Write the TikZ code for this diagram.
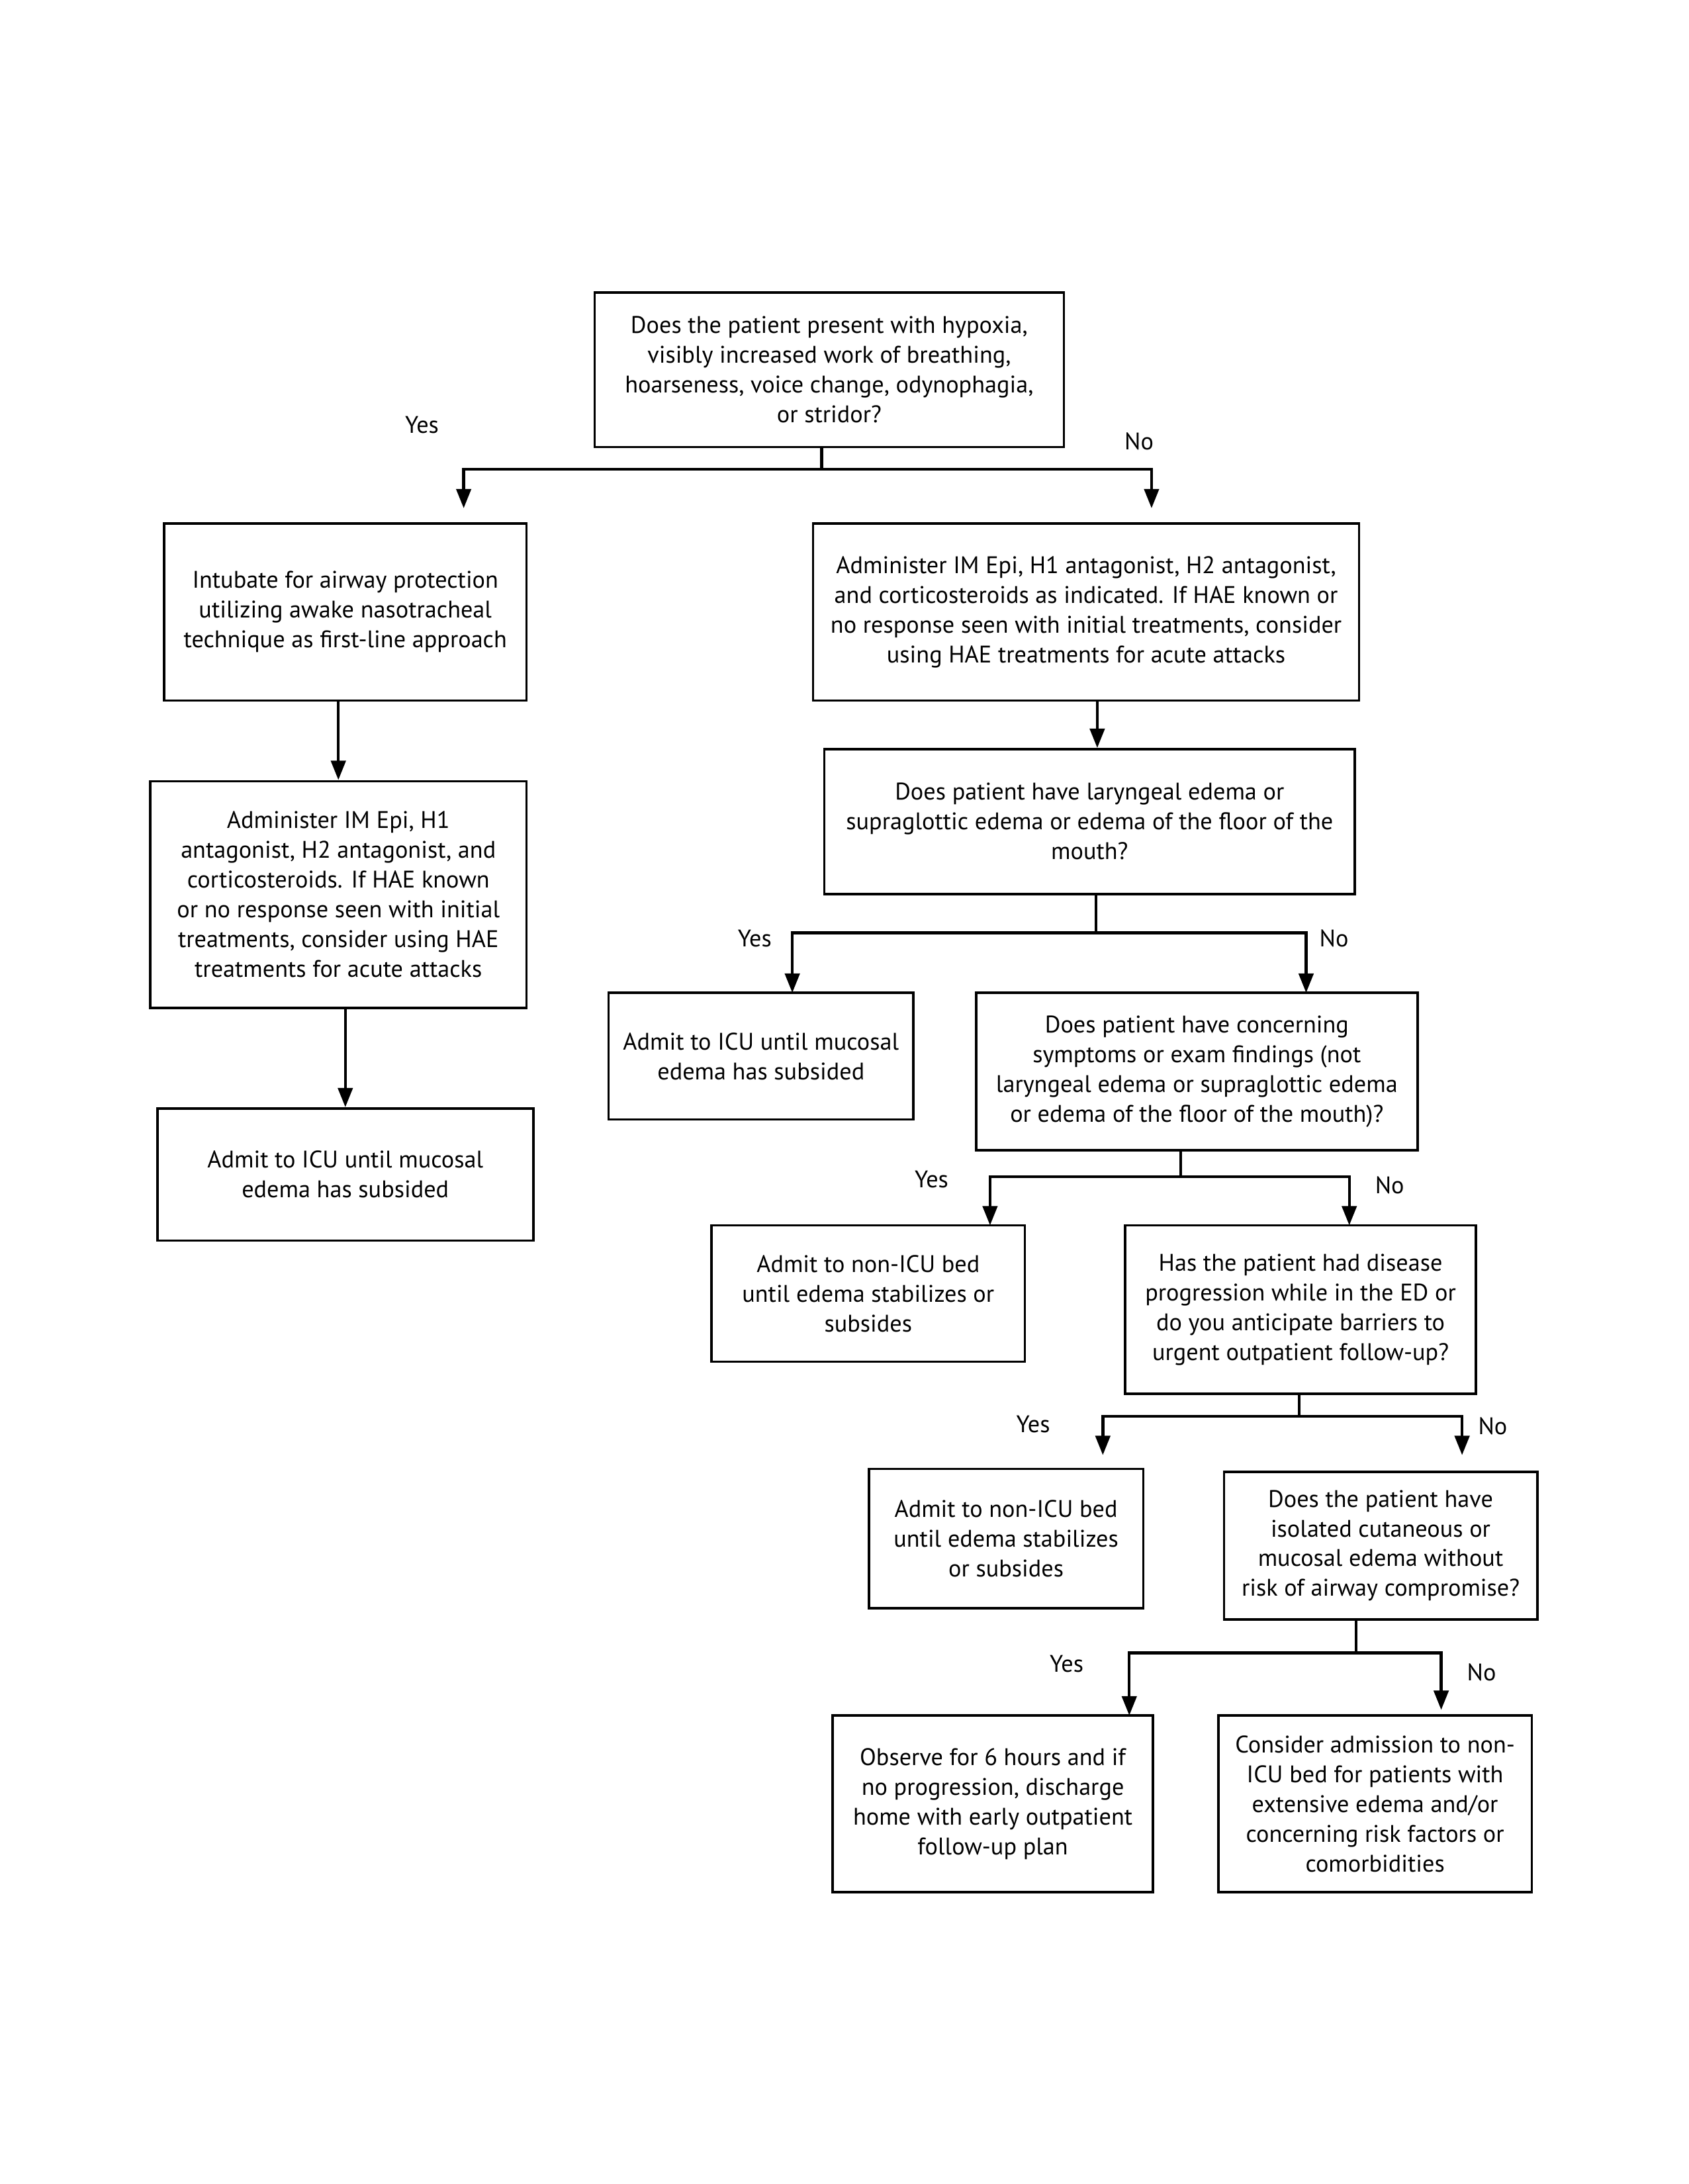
\documentclass[tikz,border=0pt]{standalone}
\usepackage{fontspec}
\newfontfamily\chartfont{PT Sans}
\newcommand*{\px}{0.505pt}
\usetikzlibrary{arrows.meta}
\tikzstyle{base}=[x=\px, y=-\px, font=\chartfont\fontsize{8.7}{10.8}\selectfont]
\tikzstyle{line}=[black, line width=1.05pt]
\tikzstyle{arr}=[line, -{Triangle[length=7pt,width=5.3pt]}]
\tikzstyle{lbl}=[inner sep=0pt]
\tikzset{box/.style 2 args={draw=black, line width=0.85pt, align=center, inner sep=0pt,
    minimum width=#1*\px, minimum height=#2*\px}}

\begin{document}
\begin{tikzpicture}[base]
    \path [use as bounding box] (0,0) rectangle (1212.5,1568.5);
    % boxes
    \node [box={337}{111}] (q1) at (595.5,265.5) {Does the patient present with hypoxia,\\ visibly increased work of breathing,\\ hoarseness, voice change, odynophagia,\\ or stridor?};
    \node [box={260}{127}] (intub) at (248,439.5) {Intubate for airway protection\\ utilizing awake nasotracheal\\ technique as first-line approach};
    \node [box={392}{127}] (adminR) at (780,439.5) {Administer IM Epi, H1 antagonist, H2 antagonist,\\ and corticosteroids as indicated. If HAE known or\\ no response seen with initial treatments, consider\\ using HAE treatments for acute attacks};
    \node [box={381}{104}] (q2) at (782.5,590) {Does patient have laryngeal edema or\\ supraglottic edema or edema of the floor of the\\ mouth?};
    \node [box={270}{163}] (adminL) at (243,642.5) {Administer IM Epi, H1\\ antagonist, H2 antagonist, and\\ corticosteroids. If HAE known\\ or no response seen with initial\\ treatments, consider using HAE\\ treatments for acute attacks};
    \node [box={219}{91}] (icuR) at (546.5,758.5) {Admit to ICU until mucosal\\ edema has subsided};
    \node [box={317}{113}] (q3) at (859.5,769.5) {Does patient have concerning\\ symptoms or exam findings (not\\ laryngeal edema or supraglottic edema\\ or edema of the floor of the mouth)?};
    \node [box={270}{95}] (icuL) at (248,843.5) {Admit to ICU until mucosal\\ edema has subsided};
    \node [box={225}{98}] (bed1) at (623.5,929) {Admit to non-ICU bed\\ until edema stabilizes or\\ subsides};
    \node [box={252}{121}] (q4) at (934,940.5) {Has the patient had disease\\ progression while in the ED or\\ do you anticipate barriers to\\ urgent outpatient follow-up?};
    \node [box={197}{100}] (bed2) at (722.5,1105) {Admit to non-ICU bed\\ until edema stabilizes\\ or subsides};
    \node [box={225}{106}] (q5) at (991.5,1110) {Does the patient have\\ isolated cutaneous or\\ mucosal edema without\\ risk of airway compromise?};
    \node [box={230}{127}] (obs) at (713,1295.5) {Observe for 6 hours and if\\ no progression, discharge\\ home with early outpatient\\ follow-up plan};
    \node [box={225}{127}] (cons) at (987.5,1295.5) {Consider admission to non-\\ ICU bed for patients with\\ extensive edema and/or\\ concerning risk factors or\\ comorbidities};

    % branch points and arrow ends
    \coordinate (q1bar) at (590,337);
    \coordinate (q1yes) at (333,365);
    \coordinate (q1no) at (827,365);
    \coordinate (q2bar) at (787,670);
    \coordinate (q2yes) at (569,713);
    \coordinate (q2no) at (938,713);
    \coordinate (q3bar) at (848,845);
    \coordinate (q3yes) at (711,880);
    \coordinate (q3no) at (969,880);
    \coordinate (q4bar) at (933,1017);
    \coordinate (q4yes) at (792,1045);
    \coordinate (q4no) at (1050,1045);
    \coordinate (q5bar) at (974,1187);
    \coordinate (q5yes) at (811,1232);
    \coordinate (q5no) at (1035,1228);

    % connectors
    \draw [line] (q1.south -| q1bar) -- (q1bar);
    \draw [arr] (q1bar) -| (q1yes);
    \draw [arr] (q1bar) -| (q1no);
    \draw [arr] ([xshift=-5*\px]intub.south) -- ([xshift=-5*\px]intub.south |- adminL.north);
    \draw [arr] ([xshift=5*\px]adminL.south) -- ([xshift=5*\px]adminL.south |- icuL.north);
    \draw [arr] ([xshift=8*\px]adminR.south) -- ([xshift=8*\px]adminR.south |- q2.north);
    \draw [line] (q2.south -| q2bar) -- (q2bar);
    \draw [arr] (q2bar) -| (q2yes);
    \draw [arr] (q2bar) -| (q2no);
    \draw [line] (q3.south -| q3bar) -- (q3bar);
    \draw [arr] (q3bar) -| (q3yes);
    \draw [arr] (q3bar) -| (q3no);
    \draw [line] (q4.south -| q4bar) -- (q4bar);
    \draw [arr] (q4bar) -| (q4yes);
    \draw [arr] (q4bar) -| (q4no);
    \draw [line] (q5.south -| q5bar) -- (q5bar);
    \draw [arr] (q5bar) -| (q5yes);
    \draw [arr] (q5bar) -| (q5no);

    % labels
    \node [lbl] (yes1) at (303,305) {Yes};
    \node [lbl] (no1) at (818,317) {No};
    \node [lbl] (yes2) at (542,674) {Yes};
    \node [lbl] (no2) at (958,674) {No};
    \node [lbl] (yes3) at (669,847) {Yes};
    \node [lbl] (no3) at (998,851) {No};
    \node [lbl] (yes4) at (742,1023) {Yes};
    \node [lbl] (no4) at (1072,1024) {No};
    \node [lbl] (yes5) at (766,1195) {Yes};
    \node [lbl] (no5) at (1064,1201) {No};
\end{tikzpicture}
\end{document}
